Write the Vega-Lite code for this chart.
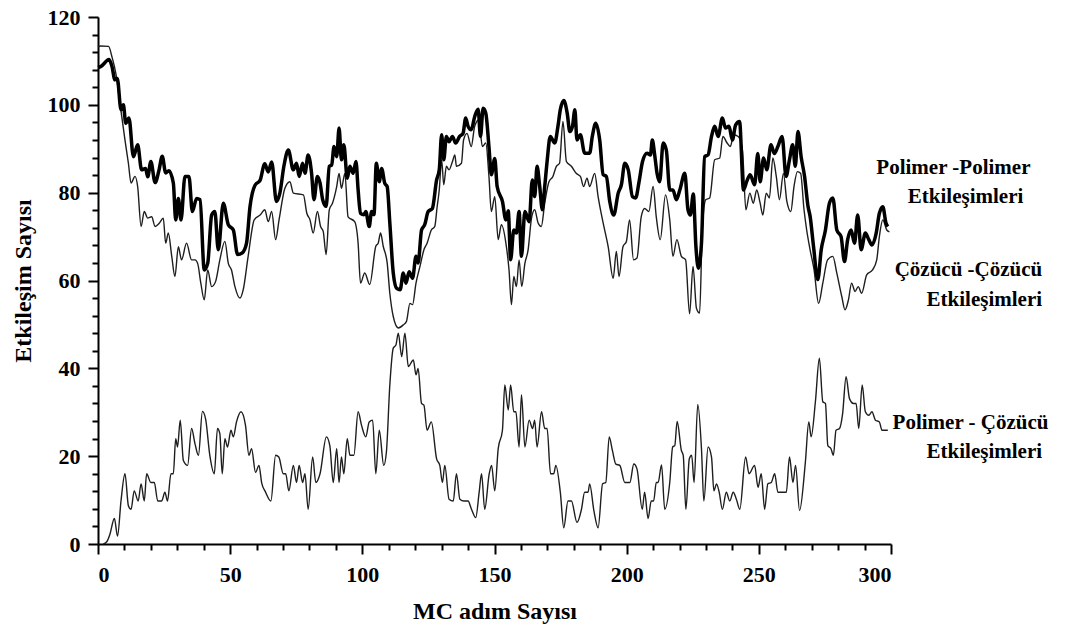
{
"$schema": "https://vega.github.io/schema/vega-lite/v6.json",
"autosize": {"type": "none"},
"padding": {"left": 98, "top": 17, "right": 201, "bottom": 91},
"width": 793,
"height": 527,
"background": "white",
"config": {"view": {"stroke": null}, "font": "Liberation Serif", "text": {"font": "serif"}, "axis": {"grid": false, "labelOverlap": false}},
"datasets": {
"pp": [{"x":0,"y":108.5},{"x":1,"y":108.7},{"x":4.2,"y":110.3},{"x":5.3,"y":108.7},{"x":6.4,"y":105.7},{"x":7.3,"y":106},{"x":8.7,"y":98.9},{"x":9.6,"y":100},{"x":10.5,"y":95.8},{"x":11.7,"y":97},{"x":13.4,"y":88.2},{"x":15,"y":90.9},{"x":16.5,"y":85.2},{"x":18,"y":85.5},{"x":18.8,"y":83.6},{"x":20,"y":87.1},{"x":21.6,"y":82.3},{"x":23.1,"y":85.2},{"x":24.3,"y":88.3},{"x":25.6,"y":84.5},{"x":26.8,"y":85},{"x":28.5,"y":82.2},{"x":29.4,"y":73.8},{"x":30.4,"y":78.7},{"x":31.4,"y":73.8},{"x":32.9,"y":83.7},{"x":34.4,"y":83.7},{"x":35.7,"y":75.7},{"x":37.3,"y":78.7},{"x":38.6,"y":78.4},{"x":40.2,"y":62.4},{"x":41.5,"y":63.9},{"x":43,"y":74.9},{"x":44.2,"y":75.7},{"x":45.5,"y":67},{"x":47.4,"y":77.6},{"x":49.3,"y":72.7},{"x":51.2,"y":71.5},{"x":52.8,"y":65.9},{"x":54.6,"y":66.3},{"x":56.2,"y":68.5},{"x":57.5,"y":76.8},{"x":59.4,"y":81.7},{"x":61.3,"y":82.8},{"x":63.1,"y":86.6},{"x":64.4,"y":84.7},{"x":65.7,"y":87},{"x":67.5,"y":78},{"x":68.8,"y":79.9},{"x":70.4,"y":86.3},{"x":72,"y":89.7},{"x":73.9,"y":85.2},{"x":75.1,"y":86.7},{"x":76.1,"y":83.7},{"x":77.4,"y":86.7},{"x":78.3,"y":84.4},{"x":79.5,"y":88.6},{"x":80.8,"y":84.4},{"x":81.7,"y":78.4},{"x":83,"y":83.7},{"x":84,"y":82.2},{"x":85,"y":78.4},{"x":86.3,"y":76.9},{"x":87.5,"y":86},{"x":88.4,"y":86.3},{"x":89.3,"y":90.5},{"x":90.3,"y":88.2},{"x":91.2,"y":94.7},{"x":92.1,"y":87.5},{"x":93,"y":90.9},{"x":94.3,"y":83.3},{"x":95.3,"y":86},{"x":96.5,"y":84.4},{"x":97.6,"y":87.1},{"x":98.4,"y":80.7},{"x":99.3,"y":75.3},{"x":100.6,"y":75},{"x":101.3,"y":75.7},{"x":102.6,"y":72.3},{"x":103.5,"y":75.7},{"x":104.4,"y":75},{"x":105.3,"y":86.7},{"x":106.4,"y":82.5},{"x":107.3,"y":85.5},{"x":108.5,"y":82.1},{"x":109.4,"y":81.4},{"x":110.4,"y":73.1},{"x":111.7,"y":61.7},{"x":113,"y":58.2},{"x":114.3,"y":57.9},{"x":115.5,"y":61.7},{"x":116.5,"y":59.4},{"x":117.7,"y":62},{"x":119,"y":60.5},{"x":120.3,"y":65.5},{"x":121.1,"y":64},{"x":122.4,"y":71.5},{"x":123.6,"y":72.7},{"x":124.9,"y":75.7},{"x":126.5,"y":76.4},{"x":128.1,"y":82.9},{"x":129.1,"y":85.2},{"x":130,"y":93.2},{"x":130.8,"y":87.5},{"x":131.8,"y":92.8},{"x":132.8,"y":91.6},{"x":134.1,"y":92.8},{"x":135.3,"y":91.3},{"x":136.8,"y":92.8},{"x":138.1,"y":93.5},{"x":139.1,"y":97},{"x":140,"y":95.1},{"x":141.2,"y":94.3},{"x":142.5,"y":97.3},{"x":143.8,"y":99},{"x":144.7,"y":92.8},{"x":145.7,"y":99.2},{"x":146.7,"y":98.1},{"x":147.9,"y":90.5},{"x":148.8,"y":84.1},{"x":150.1,"y":87.8},{"x":151,"y":81.4},{"x":153,"y":78},{"x":154.3,"y":73.8},{"x":155.2,"y":75.9},{"x":156.1,"y":64.7},{"x":157.3,"y":71.5},{"x":158.3,"y":70.8},{"x":159.3,"y":75.7},{"x":160.2,"y":65.5},{"x":161.5,"y":75.7},{"x":163.1,"y":73.4},{"x":164.3,"y":82.9},{"x":165.2,"y":79.1},{"x":166.1,"y":86},{"x":167.1,"y":81.4},{"x":168.1,"y":76.1},{"x":169,"y":81.4},{"x":169.9,"y":87.1},{"x":171.1,"y":92.8},{"x":172.8,"y":91.3},{"x":174,"y":95.1},{"x":174.9,"y":98.9},{"x":176.2,"y":101},{"x":177.5,"y":98.1},{"x":178.5,"y":93.9},{"x":179.5,"y":95.1},{"x":180.4,"y":98.9},{"x":181.2,"y":92},{"x":182.5,"y":93.2},{"x":184.1,"y":89},{"x":186,"y":89},{"x":187,"y":92.8},{"x":188.3,"y":95.8},{"x":189.8,"y":92},{"x":191.1,"y":84.1},{"x":192.3,"y":83.7},{"x":193.6,"y":78},{"x":195.1,"y":74.9},{"x":196.8,"y":79.9},{"x":198,"y":81.8},{"x":199.3,"y":86.7},{"x":200.6,"y":85.2},{"x":202.2,"y":79.1},{"x":203.4,"y":78.8},{"x":204.7,"y":82.5},{"x":206,"y":87.1},{"x":207.7,"y":89},{"x":209,"y":88.6},{"x":209.7,"y":92},{"x":210.6,"y":88.6},{"x":211.5,"y":84.4},{"x":212.5,"y":82.5},{"x":213.8,"y":91.3},{"x":215,"y":89.7},{"x":216.3,"y":80.6},{"x":217.5,"y":80.6},{"x":218.8,"y":78.4},{"x":220.1,"y":80.6},{"x":222,"y":84.4},{"x":223.2,"y":76.1},{"x":224.1,"y":74.9},{"x":225.2,"y":79.7},{"x":226.2,"y":67.7},{"x":227.1,"y":62.8},{"x":228.3,"y":68.5},{"x":229.5,"y":88.2},{"x":230.8,"y":88.6},{"x":232.1,"y":92.8},{"x":233.3,"y":95.1},{"x":234.6,"y":92.8},{"x":236.2,"y":97},{"x":237.4,"y":94.7},{"x":238.7,"y":95.1},{"x":240,"y":92},{"x":241.2,"y":95.4},{"x":242.7,"y":96.2},{"x":244.2,"y":80.6},{"x":245.4,"y":82.5},{"x":246.7,"y":84.1},{"x":248.4,"y":81.8},{"x":249.6,"y":88.9},{"x":250.5,"y":82.5},{"x":251.8,"y":87.9},{"x":253,"y":85.2},{"x":254.6,"y":90.9},{"x":255.9,"y":88.9},{"x":257.2,"y":90.5},{"x":258.8,"y":92.8},{"x":260.3,"y":83.7},{"x":261.6,"y":87.5},{"x":262.8,"y":90.9},{"x":263.8,"y":86},{"x":264.8,"y":93.9},{"x":266,"y":88.2},{"x":267.3,"y":83.7},{"x":268.6,"y":76.9},{"x":269.4,"y":74.6},{"x":270.7,"y":67.7},{"x":272.3,"y":60.2},{"x":273.6,"y":67},{"x":275.2,"y":71.5},{"x":276.7,"y":77.6},{"x":278,"y":78.8},{"x":279.5,"y":71.5},{"x":281.1,"y":70},{"x":282.4,"y":64.3},{"x":283.6,"y":69.3},{"x":284.9,"y":71.5},{"x":286.2,"y":68.5},{"x":287.4,"y":74.9},{"x":288.7,"y":67},{"x":290.3,"y":70.8},{"x":291.6,"y":69.3},{"x":292.8,"y":68.1},{"x":294.4,"y":70.8},{"x":295.6,"y":75.3},{"x":296.9,"y":76.8},{"x":298.1,"y":73.1},{"x":298.8,"y":72.3}],
"cc": [{"x":0,"y":113.2},{"x":1,"y":113.4},{"x":4,"y":113.3},{"x":5.3,"y":110.9},{"x":6.8,"y":107},{"x":8.3,"y":100.4},{"x":10.2,"y":92},{"x":11.5,"y":86.7},{"x":12.5,"y":82.2},{"x":14,"y":83.7},{"x":15,"y":81.4},{"x":16.3,"y":72.3},{"x":17.5,"y":75.7},{"x":18.8,"y":74.2},{"x":20.3,"y":74.5},{"x":21.6,"y":72.3},{"x":23.1,"y":73},{"x":24.7,"y":74.2},{"x":25.6,"y":68.5},{"x":26.6,"y":70.8},{"x":27.9,"y":65.5},{"x":29.1,"y":60.9},{"x":30.4,"y":67.7},{"x":31.6,"y":64.7},{"x":33.5,"y":68.5},{"x":35.4,"y":64.7},{"x":36.7,"y":64.7},{"x":37.7,"y":63.9},{"x":38.9,"y":59.4},{"x":40.2,"y":55.6},{"x":41.5,"y":62.4},{"x":43,"y":58.6},{"x":44.5,"y":59.8},{"x":46.1,"y":64.7},{"x":48,"y":68.9},{"x":49.3,"y":63.9},{"x":50.5,"y":62.4},{"x":51.8,"y":58.6},{"x":53.7,"y":56},{"x":54.9,"y":57.8},{"x":56.8,"y":65.5},{"x":59.1,"y":73.8},{"x":61.3,"y":74.9},{"x":63.1,"y":76.1},{"x":64.4,"y":73.4},{"x":65.7,"y":75.7},{"x":67.2,"y":69.3},{"x":68.5,"y":73.8},{"x":70.7,"y":81},{"x":72.6,"y":82.5},{"x":73.9,"y":79.9},{"x":77.7,"y":79.5},{"x":79,"y":75.3},{"x":80.2,"y":73.8},{"x":81.4,"y":70.8},{"x":83,"y":75.7},{"x":84.2,"y":72.3},{"x":85.2,"y":71.2},{"x":86.3,"y":65.9},{"x":87.5,"y":76.1},{"x":88.7,"y":77.6},{"x":90.3,"y":81.4},{"x":91.2,"y":84.4},{"x":92.1,"y":81},{"x":93.4,"y":84.4},{"x":94.6,"y":74.5},{"x":97.1,"y":73.4},{"x":98.4,"y":68.5},{"x":99.3,"y":59.4},{"x":100.9,"y":61.7},{"x":102.8,"y":59.1},{"x":105.1,"y":67.8},{"x":106,"y":68.5},{"x":106.9,"y":70.8},{"x":107.9,"y":67.8},{"x":109.4,"y":64},{"x":110.4,"y":57.1},{"x":111.7,"y":51.8},{"x":113.6,"y":49.2},{"x":115.5,"y":49.9},{"x":116.7,"y":50.7},{"x":118,"y":54.8},{"x":119,"y":54.5},{"x":120.3,"y":59.4},{"x":121.8,"y":63.2},{"x":123.3,"y":67},{"x":124.5,"y":68.5},{"x":126.1,"y":71.5},{"x":127.4,"y":72.3},{"x":128.3,"y":76.8},{"x":129.1,"y":80.6},{"x":130,"y":87.5},{"x":130.8,"y":81.8},{"x":131.8,"y":86},{"x":132.8,"y":85.2},{"x":134.1,"y":87.1},{"x":135,"y":88.6},{"x":135.6,"y":86},{"x":137.5,"y":86.7},{"x":138.3,"y":92},{"x":139.6,"y":93.5},{"x":141.2,"y":90.5},{"x":142.5,"y":95.1},{"x":144.1,"y":96.6},{"x":145.4,"y":90.5},{"x":146.7,"y":91.3},{"x":147.9,"y":83.7},{"x":148.8,"y":75.7},{"x":150.1,"y":79.1},{"x":151.4,"y":69.3},{"x":152.6,"y":72.7},{"x":154.5,"y":67.7},{"x":155.5,"y":62.4},{"x":156.4,"y":54.5},{"x":157.3,"y":60.9},{"x":158.3,"y":58.6},{"x":159.3,"y":64.7},{"x":160.3,"y":58.6},{"x":161.5,"y":63.9},{"x":162.7,"y":66.9},{"x":164,"y":74.2},{"x":165.2,"y":76.1},{"x":166.5,"y":73.1},{"x":167.7,"y":72.3},{"x":169,"y":77.6},{"x":170.6,"y":82.5},{"x":172.1,"y":83.7},{"x":173.4,"y":86},{"x":174.6,"y":86.7},{"x":175.9,"y":96.2},{"x":177.2,"y":87.1},{"x":179.1,"y":86},{"x":180.9,"y":84.4},{"x":182.5,"y":83.7},{"x":183.7,"y":81.4},{"x":185,"y":83.3},{"x":186,"y":81.4},{"x":187.9,"y":84.4},{"x":189.2,"y":79.1},{"x":191.1,"y":73.1},{"x":193,"y":67.7},{"x":194.9,"y":60.5},{"x":196.1,"y":66.6},{"x":197.1,"y":60.9},{"x":198.6,"y":67.7},{"x":199.9,"y":68.9},{"x":201.1,"y":73.8},{"x":202.6,"y":64.7},{"x":203.9,"y":65.1},{"x":205.5,"y":74.5},{"x":206.8,"y":76.4},{"x":208.4,"y":75.7},{"x":210,"y":81.4},{"x":211.2,"y":74.5},{"x":212.7,"y":69.3},{"x":214.7,"y":79.5},{"x":216.3,"y":73.8},{"x":217.5,"y":65.5},{"x":219,"y":69.3},{"x":220.7,"y":65.5},{"x":222.3,"y":64.7},{"x":223.8,"y":52.4},{"x":225.1,"y":63.2},{"x":226.4,"y":53.7},{"x":227.6,"y":52.6},{"x":228.6,"y":71.5},{"x":229.9,"y":78.4},{"x":231.4,"y":78.8},{"x":233.3,"y":87.5},{"x":235.2,"y":87.9},{"x":236.4,"y":92.8},{"x":238,"y":91.3},{"x":239.2,"y":90.5},{"x":240.5,"y":93.2},{"x":242.2,"y":92.8},{"x":243.8,"y":89.7},{"x":245.1,"y":76.1},{"x":246.6,"y":79.9},{"x":247.9,"y":77.6},{"x":249.2,"y":80.6},{"x":250.5,"y":77.6},{"x":251.5,"y":74.9},{"x":252.8,"y":79.9},{"x":254,"y":78.8},{"x":255.3,"y":87.9},{"x":256.6,"y":83.7},{"x":257.8,"y":78.4},{"x":259.3,"y":84.4},{"x":260.6,"y":78},{"x":262.1,"y":75.7},{"x":263.3,"y":81.4},{"x":264.6,"y":84.8},{"x":265.8,"y":84.4},{"x":267.1,"y":76.1},{"x":268.1,"y":71.5},{"x":269.4,"y":67},{"x":270.9,"y":62.4},{"x":272.6,"y":54.8},{"x":274.2,"y":59.4},{"x":276,"y":64.7},{"x":278,"y":65.5},{"x":279.5,"y":61.7},{"x":281.4,"y":56.3},{"x":282.6,"y":53.3},{"x":283.9,"y":55.6},{"x":285.1,"y":59.4},{"x":286.4,"y":57.5},{"x":287.6,"y":58.6},{"x":288.9,"y":57.1},{"x":290.8,"y":61.3},{"x":293,"y":62.4},{"x":294.6,"y":64.7},{"x":295.6,"y":70},{"x":296.9,"y":73.8},{"x":298.4,"y":71.5},{"x":299.4,"y":71.1}],
"pc": [{"x":2,"y":0},{"x":3.3,"y":0.5},{"x":4.5,"y":2.2},{"x":6.2,"y":5.8},{"x":7.4,"y":1.8},{"x":8.7,"y":9.8},{"x":10.2,"y":16},{"x":11.5,"y":8.7},{"x":12.5,"y":7.9},{"x":13.7,"y":12.1},{"x":15.2,"y":9.8},{"x":16.3,"y":13.7},{"x":17.5,"y":9.8},{"x":18.4,"y":16},{"x":20,"y":14},{"x":21.3,"y":14},{"x":22.6,"y":9.8},{"x":24.1,"y":9.8},{"x":25.3,"y":11.8},{"x":26.3,"y":9.8},{"x":27.6,"y":16},{"x":28.5,"y":16},{"x":29.4,"y":24},{"x":30.1,"y":22.1},{"x":31.1,"y":28.2},{"x":32.3,"y":19},{"x":33.9,"y":17.9},{"x":35.4,"y":26.3},{"x":36.7,"y":22.8},{"x":38,"y":20.2},{"x":39.5,"y":30.2},{"x":40.7,"y":28.5},{"x":42.3,"y":20.2},{"x":44,"y":16},{"x":45.2,"y":26.3},{"x":46.1,"y":25.1},{"x":47,"y":16},{"x":48,"y":24},{"x":49,"y":22.1},{"x":50.3,"y":25.9},{"x":51.2,"y":24.4},{"x":52.4,"y":27.8},{"x":54.1,"y":30.1},{"x":55.8,"y":27},{"x":57.1,"y":20.2},{"x":58.1,"y":21.7},{"x":59.6,"y":16.3},{"x":60.9,"y":17.9},{"x":61.9,"y":14},{"x":63.4,"y":11.8},{"x":65.4,"y":9.8},{"x":67.2,"y":20.2},{"x":68.4,"y":19.8},{"x":70.1,"y":16},{"x":71,"y":16},{"x":72.2,"y":12.1},{"x":73.9,"y":17.9},{"x":75.1,"y":14},{"x":76.1,"y":17.9},{"x":77.4,"y":14},{"x":78.3,"y":16},{"x":79.5,"y":7.9},{"x":81.2,"y":19.8},{"x":82.4,"y":14},{"x":84,"y":16},{"x":86.4,"y":24.4},{"x":87.7,"y":22.4},{"x":89,"y":14},{"x":90.3,"y":21.7},{"x":91.2,"y":14},{"x":92.1,"y":19.8},{"x":93,"y":16},{"x":94.3,"y":24},{"x":95.3,"y":20.2},{"x":96.8,"y":20.2},{"x":98.4,"y":30.1},{"x":99.7,"y":27},{"x":101.3,"y":24.4},{"x":102.6,"y":27.8},{"x":103.9,"y":28.2},{"x":105.1,"y":16},{"x":106.4,"y":25.9},{"x":108.1,"y":17.9},{"x":109.1,"y":20.9},{"x":110.4,"y":36.2},{"x":111.7,"y":44.6},{"x":112.7,"y":45.3},{"x":113.6,"y":48},{"x":114.9,"y":42.7},{"x":116.1,"y":48},{"x":117.4,"y":40.4},{"x":119.3,"y":41.9},{"x":120.3,"y":38.5},{"x":121.1,"y":40},{"x":122.4,"y":32},{"x":123.3,"y":31.6},{"x":124.5,"y":25.9},{"x":126.1,"y":27.8},{"x":128.1,"y":19.4},{"x":129.3,"y":17.9},{"x":130.3,"y":14},{"x":131.2,"y":17.9},{"x":132.8,"y":10.2},{"x":134.4,"y":9.8},{"x":135.6,"y":16},{"x":136.9,"y":10.2},{"x":138.4,"y":9.8},{"x":140,"y":9.8},{"x":141.3,"y":7.9},{"x":142.9,"y":6},{"x":144.2,"y":11.8},{"x":145.1,"y":16},{"x":146.3,"y":7.9},{"x":148,"y":16},{"x":148.9,"y":17.9},{"x":150.1,"y":12.1},{"x":151.4,"y":21.7},{"x":153,"y":25.9},{"x":153.9,"y":36.2},{"x":155.2,"y":30.5},{"x":156.1,"y":36.2},{"x":157.3,"y":30.1},{"x":158.1,"y":30.1},{"x":159.3,"y":22.1},{"x":160.2,"y":34},{"x":161.5,"y":22.1},{"x":163.1,"y":28.2},{"x":164.4,"y":26.3},{"x":165.2,"y":28.2},{"x":166.1,"y":22.1},{"x":167.8,"y":30.1},{"x":169,"y":26.3},{"x":169.9,"y":26.3},{"x":171.2,"y":16},{"x":172.4,"y":16},{"x":173.2,"y":17.9},{"x":174.9,"y":11.8},{"x":176.2,"y":3.7},{"x":177.8,"y":9.8},{"x":179.1,"y":9.8},{"x":181.2,"y":4.9},{"x":182.9,"y":7.9},{"x":184.1,"y":11.8},{"x":185.4,"y":11.8},{"x":186,"y":13.7},{"x":187.6,"y":7.6},{"x":189.2,"y":3.7},{"x":190.9,"y":13.7},{"x":192.1,"y":14},{"x":193.4,"y":24.4},{"x":194.6,"y":21.3},{"x":195.9,"y":18.2},{"x":197.4,"y":17.9},{"x":199.3,"y":14},{"x":201.2,"y":14},{"x":202.7,"y":18.2},{"x":203.9,"y":17.1},{"x":205.9,"y":7.9},{"x":206.8,"y":11.8},{"x":208.1,"y":5.8},{"x":209.3,"y":9.8},{"x":210.2,"y":9.8},{"x":211.2,"y":14},{"x":211.9,"y":14},{"x":213.2,"y":18},{"x":214.4,"y":7.9},{"x":216.3,"y":14},{"x":217.4,"y":22.1},{"x":218.2,"y":22.4},{"x":219.1,"y":27.9},{"x":220.7,"y":21.3},{"x":221.4,"y":20.2},{"x":222.4,"y":7.9},{"x":223.7,"y":19.4},{"x":224.6,"y":20.2},{"x":225.5,"y":14},{"x":226.9,"y":31.8},{"x":228.3,"y":21.7},{"x":229.2,"y":9.8},{"x":230.8,"y":22.1},{"x":232.1,"y":19.8},{"x":233,"y":12.1},{"x":234,"y":13.7},{"x":235,"y":11.8},{"x":236.2,"y":7.9},{"x":237.7,"y":11.8},{"x":239,"y":9.8},{"x":240.3,"y":11.8},{"x":241.5,"y":10.2},{"x":242.8,"y":7.9},{"x":245,"y":19.8},{"x":246.3,"y":16},{"x":248.4,"y":17.9},{"x":249.7,"y":12.9},{"x":250.9,"y":16},{"x":252.2,"y":7.9},{"x":253.4,"y":13.7},{"x":254.7,"y":14},{"x":256,"y":16},{"x":257.2,"y":11.8},{"x":260.4,"y":11.8},{"x":261.6,"y":19.8},{"x":262.9,"y":14},{"x":263.9,"y":17.9},{"x":265.4,"y":7.6},{"x":267.6,"y":18.6},{"x":268.9,"y":27.8},{"x":269.8,"y":24.4},{"x":271.4,"y":32.4},{"x":272.9,"y":42.3},{"x":274.2,"y":32.4},{"x":275.2,"y":32},{"x":276.1,"y":22.4},{"x":277.3,"y":21.7},{"x":278.2,"y":20.2},{"x":279.2,"y":25.9},{"x":280.5,"y":26.3},{"x":281.7,"y":29.7},{"x":283,"y":38.1},{"x":284.3,"y":33.1},{"x":285.8,"y":32},{"x":286.8,"y":32},{"x":287.8,"y":26.3},{"x":289.1,"y":36.2},{"x":290.3,"y":30.1},{"x":291.6,"y":29.3},{"x":292.8,"y":30.1},{"x":294.1,"y":28.2},{"x":295.6,"y":27.8},{"x":296.6,"y":25.9},{"x":298.8,"y":25.9}],
"labels": [{"x":323.6,"y":85.6,"t":"Polimer -Polimer"},{"x":328.2,"y":79.0,"t":"Etkileşimleri"},{"x":329.3,"y":62.4,"t":"Çözücü -Çözücü"},{"x":335.3,"y":55.6,"t":"Etkileşimleri"},{"x":330.1,"y":27.6,"t":"Polimer  - Çözücü"},{"x":335.3,"y":21.0,"t":"Etkileşimleri"}]
},
"encoding": {
  "x": {"field": "x", "type": "quantitative", "scale": {"domain": [0, 300], "nice": false},
   "axis": {"values": [0,10,20,30,40,50,60,70,80,90,100,110,120,130,140,150,160,170,180,190,200,210,220,230,240,250,260,270,280,290,300],
    "labelExpr": "datum.value % 50 === 0 ? datum.label : ''", "labelOverlap": false,
    "tickSize": {"condition": {"test": "datum.value % 50 === 0", "value": 10}, "value": 6},
    "tickColor": "black", "tickWidth": 2, "domainColor": "black", "domainWidth": 2,
    "labelFont": "Liberation Serif", "labelFontWeight": "bold", "labelFontSize": 22, "labelColor": "black", "labelPadding": 10,
    "title": "MC adım Sayısı", "titleFont": "Liberation Serif", "titleFontWeight": "bold", "titleFontSize": 24, "titleColor": "black", "titlePadding": 14}},
  "y": {"field": "y", "type": "quantitative", "scale": {"domain": [0, 120], "nice": false},
   "axis": {"values": [0,4,8,12,16,20,24,28,32,36,40,44,48,52,56,60,64,68,72,76,80,84,88,92,96,100,104,108,112,116,120],
    "labelExpr": "datum.value % 20 === 0 ? datum.label : ''", "labelOverlap": false,
    "tickSize": {"condition": {"test": "datum.value % 20 === 0", "value": 10}, "value": 6},
    "tickColor": "black", "tickWidth": 2, "domainColor": "black", "domainWidth": 2,
    "labelFont": "Liberation Serif", "labelFontWeight": "bold", "labelFontSize": 22, "labelColor": "black", "labelPadding": 8,
    "title": "Etkileşim Sayısı", "titleFont": "Liberation Serif", "titleFontWeight": "bold", "titleFontSize": 24, "titleColor": "black", "titlePadding": 12}}
},
"layer": [
{"data": {"name": "pc"},
 "mark": {"type": "line", "color": "#1e1e1e", "strokeWidth": 1.4, "interpolate": "monotone"}},
{"data": {"name": "cc"},
 "mark": {"type": "line", "color": "#1e1e1e", "strokeWidth": 1.4, "interpolate": "monotone"}},
{"data": {"name": "pp"},
 "mark": {"type": "line", "color": "black", "strokeWidth": 3.5, "interpolate": "monotone"}},
{"data": {"name": "labels"},
 "mark": {"type": "text", "font": "serif", "fontWeight": "bold", "fontSize": 21, "color": "black", "align": "center", "baseline": "middle", "clip": false},
 "encoding": {"text": {"field": "t"}}}
]
}
